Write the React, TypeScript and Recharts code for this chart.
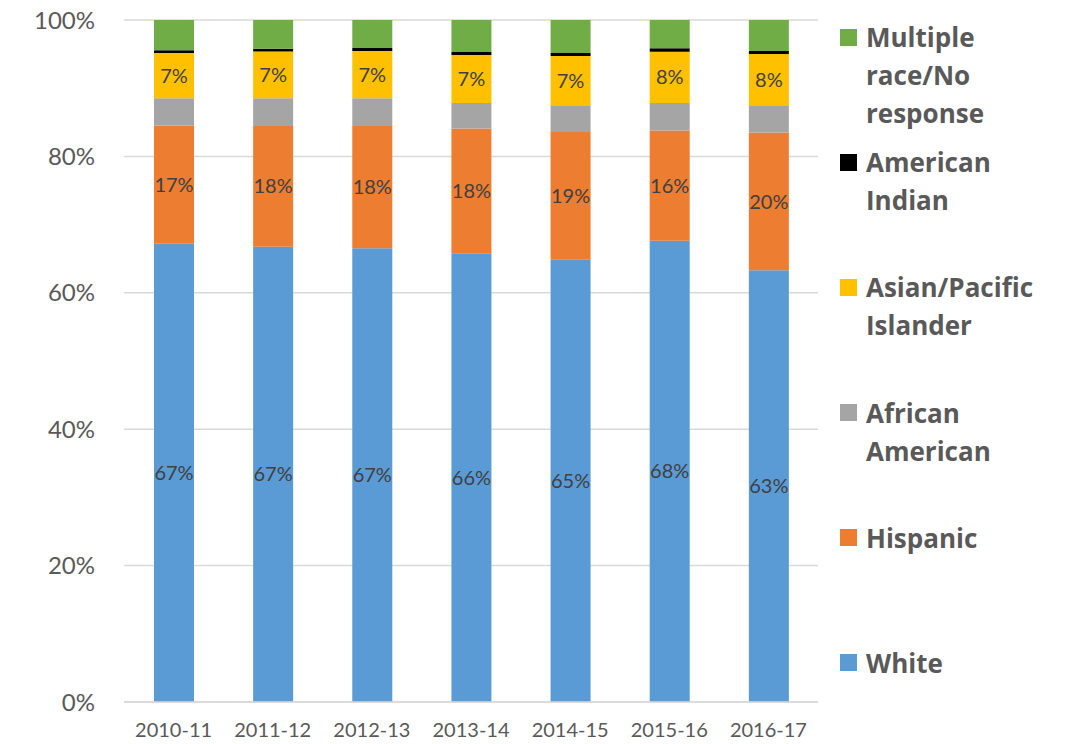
import { Bar, BarChart, CartesianGrid, LabelList, XAxis, YAxis } from "recharts";

const years = ["2010-11", "2011-12", "2012-13", "2013-14", "2014-15", "2015-16", "2016-17"];
const white = [67.21, 66.77, 66.52, 65.8, 64.91, 67.65, 63.3];
const hispanic = [17.31, 17.69, 17.94, 18.28, 18.67, 16.13, 20.19];
const africanAmerican = [4.0, 4.06, 4.06, 3.75, 3.91, 4.05, 4.0];
const asianPacific = [6.64, 6.85, 6.93, 7.04, 7.23, 7.52, 7.52];
const americanIndian = [0.4, 0.43, 0.45, 0.44, 0.44, 0.49, 0.44];
const multipleRace = [4.44, 4.2, 4.1, 4.69, 4.84, 4.16, 4.55];
const yTicks = [0, 20, 40, 60, 80, 100];

const series = [
  { key: "white", label: ["White"], color: "#5b9bd5", values: white, labelled: true },
  { key: "hispanic", label: ["Hispanic"], color: "#ed7d31", values: hispanic, labelled: true },
  { key: "african", label: ["African", "American"], color: "#a5a5a5", values: africanAmerican, labelled: false },
  { key: "asian", label: ["Asian/Pacific", "Islander"], color: "#ffc000", values: asianPacific, labelled: true },
  { key: "indian", label: ["American", "Indian"], color: "#000000", values: americanIndian, labelled: false },
  { key: "multiple", label: ["Multiple", "race/No", "response"], color: "#70ad47", values: multipleRace, labelled: false }
];

const rows = years.map((year, i) => {
  const row: Record<string, number | string> = { year };
  series.forEach((s) => {
    row[s.key] = s.values[i];
  });
  return row;
});

const FONT = "Lato, 'Open Sans', sans-serif";

function LegendBlock() {
  const items = [...series].reverse();
  return (
    <div
      style={{
        position: "absolute",
        left: 840,
        top: 18,
        fontFamily: "'Open Sans', sans-serif",
        fontWeight: 700,
        fontSize: 26,
        color: "#595959",
        lineHeight: "38px"
      }}
    >
      {items.map((s) => (
        <div key={s.key} style={{ position: "relative", height: 125.2, paddingLeft: 26 }}>
          <span
            style={{
              position: "absolute",
              left: 0,
              top: 10.5,
              width: 17,
              height: 17,
              backgroundColor: s.color
            }}
          />
          {s.label.map((line) => (
            <div key={line} style={{ whiteSpace: "nowrap" }}>{line}</div>
          ))}
        </div>
      ))}
    </div>
  );
}

export default function App() {
  return (
    <div style={{ position: "absolute", left: 0, top: 0, width: 1066, height: 744, background: "#fff" }}>
      <BarChart
        width={1066}
        height={744}
        data={rows}
        margin={{ top: 20, right: 248, left: 0, bottom: 0 }}
        barSize={40}
      >
        <CartesianGrid stroke="#d9d9d9" strokeWidth={1.5} vertical={false} />
        <XAxis
          dataKey="year"
          height={42}
          tickLine={false}
          tickSize={0}
          tickMargin={21}
          axisLine={{ stroke: "#d9d9d9", strokeWidth: 1.5 }}
          tick={{ fill: "#595959", fontSize: 20, fontFamily: FONT }}
          interval={0}
        />
        <YAxis
          width={124}
          domain={[0, 100]}
          ticks={yTicks}
          allowDataOverflow
          tickLine={false}
          axisLine={false}
          tickSize={0}
          tickMargin={29}
          tickFormatter={(v: number) => `${v}%`}
          tick={{ fill: "#595959", fontSize: 24, fontFamily: FONT }}
        />
        {series.map((s) => (
          <Bar key={s.key} dataKey={s.key} stackId="a" fill={s.color} isAnimationActive={false}>
            {s.labelled ? (
              <LabelList
                dataKey={s.key}
                position="center"
                formatter={(v: number) => `${Math.round(v)}%`}
                style={{ fill: "#404040", fontSize: 20, fontFamily: FONT }}
              />
            ) : null}
          </Bar>
        ))}
      </BarChart>
      <LegendBlock />
    </div>
  );
}
